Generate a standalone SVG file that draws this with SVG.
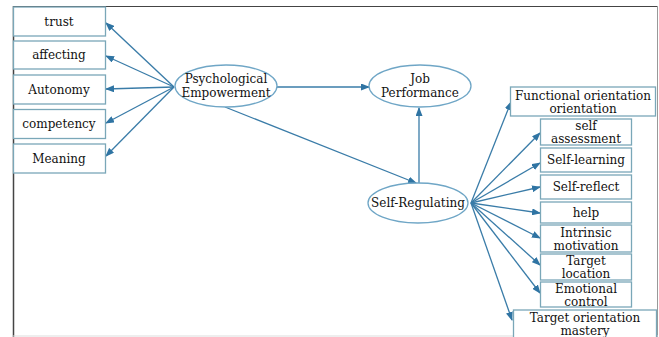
<svg xmlns="http://www.w3.org/2000/svg" width="659" height="337" viewBox="0 0 659 337">
<style>
.box{fill:#fff;stroke:#7aa7b8;stroke-width:1.3}
.ell{fill:#fff;stroke:#6fa6c6;stroke-width:1.3}
.t{font-family:"DejaVu Serif","Liberation Serif",serif;font-size:12px;fill:#111;text-anchor:middle}
.c{stroke:#3a7ca8;stroke-width:1.3;fill:none;marker-end:url(#ah)}
</style>
<defs>
<marker id="ah" markerWidth="9" markerHeight="7" refX="8" refY="3.5" orient="auto" markerUnits="userSpaceOnUse">
<path d="M0,0 L9,3.5 L0,7 Z" fill="#2f74a3"/>
</marker>
</defs>
<rect width="659" height="337" fill="#fff"/>
<g id="frame">
<line x1="13" y1="6.5" x2="658" y2="6.5" stroke="#444" stroke-width="1.2"/>
<line x1="13.5" y1="6" x2="13.5" y2="337" stroke="#444" stroke-width="1.5"/>
<line x1="657.5" y1="6" x2="657.5" y2="337" stroke="#999" stroke-width="1"/>
<line x1="13" y1="336" x2="658" y2="336" stroke="#ddd" stroke-width="1"/>
</g>
<g id="connectors">
<line class="c" x1="174" y1="87" x2="106" y2="23"/>
<line class="c" x1="174" y1="87" x2="106" y2="56"/>
<line class="c" x1="174" y1="87" x2="106" y2="89"/>
<line class="c" x1="174" y1="87" x2="106" y2="123"/>
<line class="c" x1="174" y1="87" x2="106" y2="156"/>
<line class="c" x1="277" y1="87" x2="369" y2="87"/>
<line class="c" x1="225" y1="107" x2="416" y2="183"/>
<line class="c" x1="419" y1="183" x2="419" y2="108"/>
<line class="c" x1="471" y1="203" x2="511" y2="102"/>
<line class="c" x1="471" y1="203" x2="540" y2="133"/>
<line class="c" x1="471" y1="203" x2="540" y2="163"/>
<line class="c" x1="471" y1="203" x2="540" y2="187"/>
<line class="c" x1="471" y1="203" x2="540" y2="213"/>
<line class="c" x1="471" y1="203" x2="540" y2="238"/>
<line class="c" x1="471" y1="203" x2="540" y2="265"/>
<line class="c" x1="471" y1="203" x2="540" y2="293"/>
<line class="c" x1="471" y1="203" x2="512" y2="320"/>
</g>
<g id="trust"><rect class="box" x="13.5" y="7" width="92" height="29"/><text class="t" x="59" y="26">trust</text></g>
<g id="affecting"><rect class="box" x="13.5" y="41" width="92" height="28"/><text class="t" x="59" y="59">affecting</text></g>
<g id="autonomy"><rect class="box" x="13.5" y="75" width="92" height="29"/><text class="t" x="59" y="94">Autonomy</text></g>
<g id="competency"><rect class="box" x="13.5" y="109.5" width="92" height="29"/><text class="t" x="59" y="128">competency</text></g>
<g id="meaning"><rect class="box" x="13.5" y="144" width="92" height="29"/><text class="t" x="59" y="163">Meaning</text></g>
<g id="psych"><ellipse class="ell" cx="226" cy="86" rx="51" ry="21"/><text class="t" x="226" y="83">Psychological</text><text class="t" x="226" y="97">Empowerment</text></g>
<g id="job"><ellipse class="ell" cx="420" cy="86" rx="51" ry="21"/><text class="t" x="420" y="83">Job</text><text class="t" x="420" y="97">Performance</text></g>
<g id="selfreg"><ellipse class="ell" cx="418" cy="203" rx="50" ry="20"/><text class="t" x="418" y="207">Self-Regulating</text></g>
<g id="functional"><rect class="box" x="510.5" y="87" width="145" height="29"/><text class="t" x="583" y="100">Functional orientation</text><text class="t" x="583" y="113">orientation</text></g>
<g id="selfassess"><rect class="box" x="540.5" y="119" width="91" height="26"/><text class="t" x="586" y="130">self</text><text class="t" x="586" y="143">assessment</text></g>
<g id="selflearning"><rect class="box" x="540.5" y="148" width="91" height="24"/><text class="t" x="586" y="164">Self-learning</text></g>
<g id="selfreflect"><rect class="box" x="540.5" y="175" width="91" height="24"/><text class="t" x="586" y="191">Self-reflect</text></g>
<g id="help"><rect class="box" x="540.5" y="202" width="91" height="21"/><text class="t" x="586" y="217">help</text></g>
<g id="intrinsic"><rect class="box" x="540.5" y="225" width="91" height="27"/><text class="t" x="586" y="237">Intrinsic</text><text class="t" x="586" y="250">motivation</text></g>
<g id="targetloc"><rect class="box" x="540.5" y="254" width="91" height="26"/><text class="t" x="586" y="265">Target</text><text class="t" x="586" y="278">location</text></g>
<g id="emotional"><rect class="box" x="540.5" y="282" width="91" height="25"/><text class="t" x="586" y="293">Emotional</text><text class="t" x="586" y="306">control</text></g>
<g id="targetorient"><rect class="box" x="513.5" y="310" width="143" height="30"/><text class="t" x="585" y="322">Target orientation</text><text class="t" x="585" y="335">mastery</text></g>
</svg>
